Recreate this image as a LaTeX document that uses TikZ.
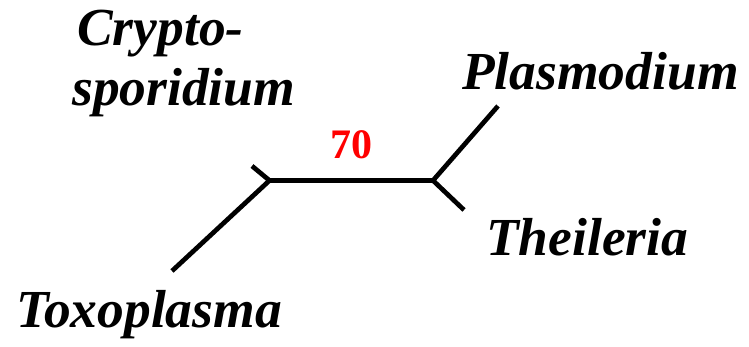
\documentclass[tikz,border=0pt]{standalone}
\usepackage{fontspec}
\setmainfont{Liberation Serif}
\begin{document}
\begin{tikzpicture}[x=1pt,y=-1pt,
  taxon/.style={anchor=base west, inner sep=0pt, font=\fontsize{53.5}{60}\selectfont\bfseries\itshape},
  branch/.style={line width=4.7pt, black},
  support/.style={inner sep=0pt, text=red, font=\fontsize{42}{48}\selectfont\bfseries}]
\useasboundingbox (0,0) rectangle (749,347);
\coordinate (j1) at (269.5,180.5);
\coordinate (j2) at (433,180.5);
\coordinate (eC) at (252,166);
\coordinate (eT) at (172,271);
\coordinate (eP) at (498,106);
\coordinate (eTh) at (464,210);
\draw[branch] (eC) -- (j1) -- (eT);
\draw[branch] (j1) -- (j2);
\draw[branch] (eP) -- (j2) -- (eTh);
\node[taxon] (crypto) at (77,46) {Crypto-};
\node[taxon] (spor) at (72,106) {sporidium};
\node[taxon] (plas) at (462,90) {Plasmodium};
\node[taxon] (thei) at (486,255) {Theileria};
\node[taxon] (toxo) at (16,327) {Toxoplasma};
\node[support] (bs) at (351,145) {70};
\end{tikzpicture}
\end{document}
